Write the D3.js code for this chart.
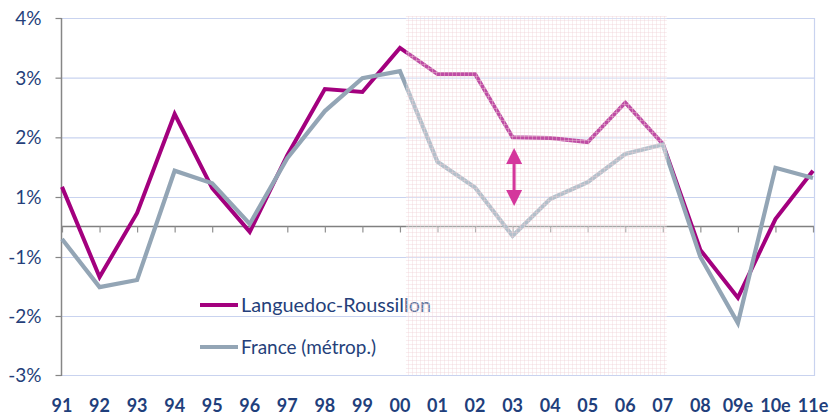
<!DOCTYPE html>
<html>
<head>
<meta charset="utf-8">
<script src="https://cdn.jsdelivr.net/npm/d3@7"></script>
<style>
  body { margin: 0; background: #fff; }
  text { font-family: Lato, "Open Sans", sans-serif; }
</style>
</head>
<body>
<svg id="chart"></svg>
<script>
// categories (years)
var years = ['91','92','93','94','95','96','97','98','99','00','01','02','03','04','05','06','07','08','09e','10e','11e'];
// growth rates (%)
var languedoc = [1.17,-1.34,0.45,2.39,1.15,-0.19,1.70,2.81,2.76,3.50,3.06,3.06,2.00,1.99,1.92,2.58,1.89,-0.77,-1.69,0.24,1.44];
var france    = [-0.42,-1.51,-1.39,1.44,1.23,0.07,1.65,2.44,2.99,3.11,1.59,1.16,-0.32,0.93,1.25,1.72,1.88,-1.0,-2.12,1.49,1.32];
var yTicks = [4,3,2,1,-1,-2,-3];
var seriesNames = ['Languedoc-Roussillon','France (métrop.)'];
// shaded period and gap arrow
var shadeFrom = '00', shadeTo = '07';
var arrowYear = '03', arrowTop = 1.82, arrowBottom = 0.69;

var svgWidth = 832, svgHeight = 416;
var svg = d3.select('#chart')
    .attr('width', svgWidth)
    .attr('height', svgHeight);

var plotLeft = 62, plotRight = 813, plotTop = 18, plotBottom = 375;

var x = d3.scalePoint()
    .domain(years)
    .range([plotLeft, plotRight]);

// axis is compressed between -1% and 1% (as in the original)
var y = d3.scaleLinear()
    .domain([-3, -1, 0, 1, 4])
    .range([plotBottom, 257, 226, 197, plotTop]);

var defs = svg.append('defs');
var pat = defs.append('pattern')
    .attr('id', 'hatch')
    .attr('patternUnits', 'userSpaceOnUse')
    .attr('width', 4).attr('height', 4);
pat.append('rect').attr('width', 4).attr('height', 4).attr('fill', '#fff').attr('fill-opacity', 0.3);
pat.append('path').attr('d', 'M0,0.5H4M0.5,0V4')
    .attr('stroke', '#f0d0d4').attr('stroke-width', 1).attr('stroke-opacity', 0.38);

// gridlines
svg.append('g')
    .selectAll('line')
    .data(yTicks)
    .join('line')
    .attr('x1', plotLeft).attr('x2', plotRight + 1)
    .attr('y1', function(d) { return y(d) + 0.5; })
    .attr('y2', function(d) { return y(d) + 0.5; })
    .attr('stroke', '#c9d3ef')
    .attr('stroke-width', 1.2);

svg.append('line')
    .attr('x1', plotRight + 1.5).attr('x2', plotRight + 1.5)
    .attr('y1', plotTop).attr('y2', plotBottom + 1)
    .attr('stroke', '#c9d3ef').attr('stroke-width', 1.2);

// y axis
var yAxis = svg.append('g')
    .attr('transform', 'translate(' + (plotLeft - 0.5) + ',0)')
    .call(d3.axisLeft(y).tickValues(yTicks).tickSize(6).tickPadding(14)
        .tickFormat(function(d) { return d + '%'; }));
yAxis.select('.domain').attr('stroke', '#868686').attr('stroke-width', 1.5)
    .attr('d', 'M0,' + plotTop + 'V' + (plotBottom + 1));
yAxis.selectAll('.tick line').attr('stroke', '#868686').attr('stroke-width', 1.2);
yAxis.selectAll('.tick text')
    .attr('fill', '#253f7a')
    .style('font-size', '19px')
    .attr('dy', '0.35em');

// zero axis with category ticks
var xAxis = svg.append('g')
    .attr('transform', 'translate(0,' + (y(0) + 0.5) + ')')
    .call(d3.axisBottom(x).tickSize(6).tickFormat(''));
xAxis.select('.domain').attr('stroke', '#808080').attr('stroke-width', 1.6)
    .attr('d', 'M' + plotLeft + ',0H' + (plotRight + 1));
xAxis.selectAll('.tick line').attr('stroke', '#909090').attr('stroke-width', 1.2);

// category labels
svg.append('g')
    .selectAll('text')
    .data(years)
    .join('text')
    .attr('x', function(d) { return x(d); })
    .attr('y', 406)
    .attr('dy', '0.35em')
    .attr('text-anchor', 'middle')
    .attr('fill', '#1f3f7c')
    .style('font-size', '18px')
    .style('font-weight', 'bold')
    .text(function(d) { return d; });

var line = d3.line()
    .x(function(d, i) { return x(years[i]); })
    .y(function(d) { return y(d); });

svg.append('path')
    .datum(languedoc)
    .attr('fill', 'none')
    .attr('stroke', '#a3007e')
    .attr('stroke-width', 4)
    .attr('stroke-linejoin', 'miter')
    .attr('d', line);

svg.append('path')
    .datum(france)
    .attr('fill', 'none')
    .attr('stroke', '#93a5b5')
    .attr('stroke-width', 4.2)
    .attr('stroke-linejoin', 'miter')
    .attr('d', line);

// legend
var legend = svg.append('g');
var legendColors = ['#a3007e', '#93a5b5'];
var legendY = [305, 347];
seriesNames.forEach(function(name, i) {
    legend.append('line')
        .attr('x1', 200).attr('x2', 238)
        .attr('y1', legendY[i]).attr('y2', legendY[i])
        .attr('stroke', legendColors[i])
        .attr('stroke-width', 4);
    legend.append('text')
        .attr('x', 241)
        .attr('y', legendY[i])
        .attr('dy', '0.35em')
        .attr('fill', '#253f7a')
        .style('font-size', '19px')
        .attr('textLength', i === 0 ? 190 : 135)
        .attr('lengthAdjust', 'spacingAndGlyphs')
        .text(name);
});

// shaded period over everything
var x0 = x(shadeFrom) + 6, x1 = x(shadeTo) + 4;
svg.append('rect')
    .attr('x', x0).attr('y', plotTop - 2)
    .attr('width', x1 - x0).attr('height', plotBottom - plotTop + 2)
    .attr('fill', 'url(#hatch)');

// double arrow
var ax = x(arrowYear) + 1.5;
var ya = y(arrowTop), yb = y(arrowBottom);
var arrow = svg.append('g').attr('fill', '#d4379c');
arrow.append('line')
    .attr('x1', ax).attr('x2', ax)
    .attr('y1', ya + 10).attr('y2', yb - 10)
    .attr('stroke', '#d4379c').attr('stroke-width', 3);
arrow.append('path')
    .attr('d', 'M' + ax + ',' + ya + 'l8,16h-16z');
arrow.append('path')
    .attr('d', 'M' + ax + ',' + yb + 'l8,-16h-16z');
</script>
</body>
</html>
